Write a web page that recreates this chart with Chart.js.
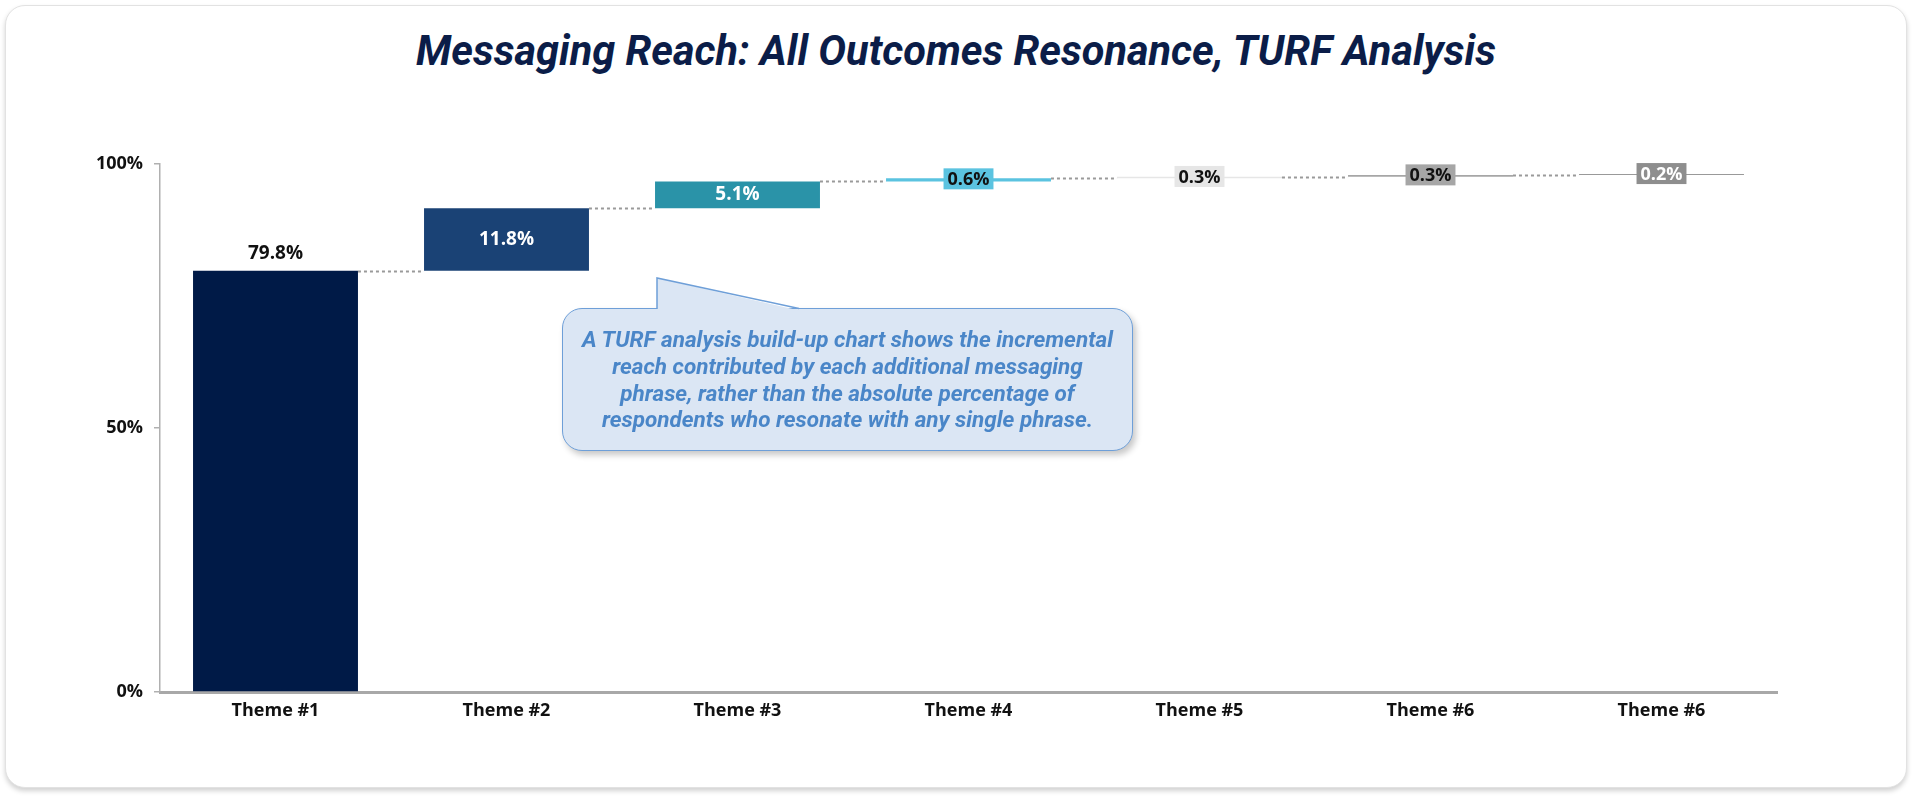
<!DOCTYPE html>
<html>
<head>
<meta charset="utf-8">
<script src="https://cdn.jsdelivr.net/npm/chart.js@4.4.1/dist/chart.umd.min.js"></script>
<style>
  html, body { margin: 0; padding: 0; background: #ffffff; }
  body { width: 1920px; height: 802px; position: relative; overflow: hidden; }
  #card {
    position: absolute; left: 5px; top: 5px; width: 1902px; height: 783px;
    box-sizing: border-box; border: 1px solid #e2e2e2; border-radius: 20px;
    background: #fff; box-shadow: 0 3px 5px rgba(0,0,0,0.18);
  }
  #title {
    position: absolute; left: 0; top: 30px; width: 1912px; text-align: center;
    font-family: Roboto, sans-serif; font-weight: 700; font-style: italic;
    font-size: 41.5px; line-height: 41px; color: #0b1d48;
  }
  #chartWrap { position: absolute; left: 0; top: 0; width: 1920px; height: 802px; }
  #callout {
    position: absolute; left: 562px; top: 308px; width: 571px; height: 143px;
    box-sizing: border-box; border: 1.5px solid #6e9fd8; border-radius: 20px;
    background: #dbe6f4; box-shadow: 3px 4px 6px rgba(0,0,0,0.22);
    display: flex; align-items: center; justify-content: center; text-align: center;
    font-family: Roboto, sans-serif; font-weight: 700; font-style: italic;
    font-size: 22.5px; line-height: 26.8px; color: #4a86c8; white-space: nowrap;
  }
  #pointer { position: absolute; left: 0; top: 0; width: 1920px; height: 802px; pointer-events: none; }
</style>
</head>
<body>
<div id="card"></div>
<div id="title">Messaging Reach: All Outcomes Resonance, TURF Analysis</div>
<div id="chartWrap"><canvas id="turfChart" width="1920" height="802"></canvas></div>
<div id="callout">A TURF analysis build-up chart shows the incremental<br>reach contributed by each additional messaging<br>phrase, rather than the absolute percentage of<br>respondents who resonate with any single phrase.</div>
<svg id="pointer" viewBox="0 0 1920 802">
  <polygon points="657,278 657,310.5 799,310.5" fill="#dbe6f4"/>
  <polyline points="657,309 657,278 799,308.5" fill="none" stroke="#6e9fd8" stroke-width="1.5"/>
</svg>

<script>
// chart values
const categories = ['Theme #1', 'Theme #2', 'Theme #3', 'Theme #4', 'Theme #5', 'Theme #6', 'Theme #6'];
const increments = [79.8, 11.8, 5.1, 0.6, 0.3, 0.3, 0.2];
const yTickValues = [0, 50, 100];

// styling per bar
const barColors = ['#001a47', '#1a4275', '#2a93a8', '#5bc3e0', '#e6e6e6', '#a6a6a6', '#999999'];
const boxColors = [null, null, null, '#5bc3e0', '#e6e6e6', '#a6a6a6', '#8e8e8e'];
const textColors = ['#111111', '#ffffff', '#ffffff', '#111111', '#111111', '#111111', '#ffffff'];

// running totals -> floating bars
let running = 0;
const cumulative = [];
const floating = increments.map(v => {
    const start = running;
    running = Math.round((running + v) * 10) / 10;
    cumulative.push(running);
    return [start, running];
});

const bigLabelFont = 'bold 19px "Open Sans", sans-serif';
const smallLabelFont = 'bold 18px "Open Sans", sans-serif';

const connectorPlugin = {
    id: 'connectors',
    afterDatasetsDraw(chart) {
        const ctx = chart.ctx;
        const bars = chart.getDatasetMeta(0).data;
        const y = chart.scales.y;
        ctx.save();
        ctx.strokeStyle = '#9a9a9a';
        ctx.lineWidth = 2;
        ctx.setLineDash([3, 3]);
        for (let i = 0; i < bars.length - 1; i++) {
            const py = Math.round(y.getPixelForValue(cumulative[i])) + 0.5;
            ctx.beginPath();
            ctx.moveTo(bars[i].x + bars[i].width / 2, py);
            ctx.lineTo(bars[i + 1].x - bars[i + 1].width / 2, py);
            ctx.stroke();
        }
        ctx.restore();
    }
};

const labelPlugin = {
    id: 'barLabels',
    afterDatasetsDraw(chart) {
        const ctx = chart.ctx;
        const bars = chart.getDatasetMeta(0).data;
        ctx.save();
        ctx.textAlign = 'center';
        ctx.textBaseline = 'middle';
        bars.forEach((bar, i) => {
            const text = increments[i].toFixed(1) + '%';
            const top = Math.min(bar.y, bar.base);
            const bottom = Math.max(bar.y, bar.base);
            const cy = i === 0 ? top - 17 : (top + bottom) / 2;
            if (boxColors[i]) {
                ctx.font = smallLabelFont;
                const w = ctx.measureText(text).width + 8;
                const h = 21;
                ctx.fillStyle = boxColors[i];
                ctx.fillRect(bar.x - w / 2, cy - h / 2 - 1, w, h);
            } else {
                ctx.font = bigLabelFont;
            }
            ctx.fillStyle = textColors[i];
            ctx.fillText(text, bar.x, cy);
        });
        ctx.restore();
    }
};

new Chart(document.getElementById('turfChart').getContext('2d'), {
    type: 'bar',
    data: {
        labels: categories,
        datasets: [{
            data: floating,
            backgroundColor: barColors,
            borderWidth: 0,
            borderSkipped: false,
            categoryPercentage: 1.0,
            barPercentage: 0.714
        }]
    },
    options: {
        responsive: false,
        animation: false,
        devicePixelRatio: 1,
        layout: { padding: { left: 0, right: 143, top: 164, bottom: 0 } },
        plugins: {
            legend: { display: false },
            tooltip: { enabled: false },
            title: { display: false }
        },
        scales: {
            x: {
                grid: { display: false, drawTicks: false },
                border: { display: true, color: '#a8a8a8', width: 3 },
                ticks: {
                    color: '#111111',
                    padding: 8,
                    font: { family: '"Open Sans", sans-serif', size: 18, weight: 'bold' }
                },
                afterFit(scale) { scale.height = 110; }
            },
            y: {
                min: 0,
                max: 100,
                afterBuildTicks(scale) { scale.ticks = yTickValues.map(v => ({ value: v })); },
                grid: { drawOnChartArea: false, drawTicks: true, tickLength: 6, color: '#b0b0b0', lineWidth: 1.5 },
                border: { display: true, color: '#b0b0b0', width: 1.5 },
                ticks: {
                    color: '#111111',
                    padding: 11,
                    font: { family: '"Open Sans", sans-serif', size: 18, weight: 'bold' },
                    callback: v => v + '%'
                },
                afterFit(scale) { scale.width = 160; }
            }
        }
    },
    plugins: [connectorPlugin, labelPlugin]
});
</script>
</body>
</html>
